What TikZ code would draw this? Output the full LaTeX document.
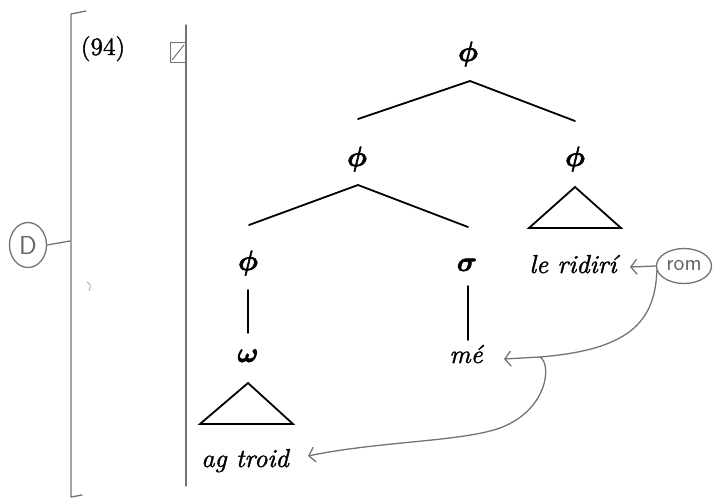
\documentclass[tikz,border=0pt]{standalone}
\usepackage{amsmath,bm}
\usepackage{fontspec}
\newfontfamily\wordfont{lmroman10-italic.otf}[FakeBold=1.3]
\newfontfamily\numfont{lmroman10-regular.otf}[FakeBold=1.2]
\usetikzlibrary{arrows.meta,shapes.geometric}
\newcommand{\gk}[1]{\scalebox{2.8}{\special{pdf:literal direct 2 Tr 0.22 w}$\bm{#1}$\special{pdf:literal direct 0 Tr}}}
\begin{document}
\begin{tikzpicture}[x=1pt,y=-1pt,
  lab/.style={anchor=base,inner sep=0pt},
  greek/.style={lab},
  word/.style={lab,font=\fontsize{26}{30}\selectfont\wordfont},
  branch/.style={line width=1.8pt,black,line cap=round,line join=miter},
  ann/.style={draw=black!55,line width=1.3pt,line cap=round,line join=round},
  annarrow/.style={ann,-{Straight Barb[length=6pt,width=15pt]}},
  bubble/.style={ellipse,draw=black!55,line width=1.3pt,inner sep=0pt,text=black!60,font=\fontsize{23}{25}\selectfont\sffamily}
]
\useasboundingbox (0,0) rectangle (713,499);

% hand-drawn brackets and marks
\draw[ann] (86,11) -- (71,14) -- (71,497) -- (82,495);
\draw[ann] (186,25) -- (186,486);
\draw[ann,line width=1pt] (170,42) rectangle (185,62);
\draw[ann,line width=1pt] (172,60) -- (184,45);
\draw[black!35,line width=0.8pt] (87,282) .. controls (91,285) .. (89,291);

% example number
\node[lab,font=\fontsize{25}{28}\selectfont\numfont] (ex) at (103,55) {(94)};

% tree labels
\node[greek] (top) at (468,61) {\gk{\phi}};
\node[greek] (mid) at (357,166) {\gk{\phi}};
\node[greek] (rgt) at (575,166) {\gk{\phi}};
\node[greek] (lowphi) at (248,270) {\gk{\phi}};
\node[greek] (sig) at (467,271) {\gk{\sigma}};
\node[word] (ler) at (573,273) {le ridirí};
\node[greek] (om) at (248,362) {\gk{\omega}};
\node[word] (me) at (466,363) {mé};
\node[word] (ag) at (245,467) {ag troid};

% branch points
\coordinate (tapex) at (470,81);
\coordinate (tl) at (358,119);
\coordinate (tr) at (575,121);
\coordinate (mapex) at (358,185);
\coordinate (ml) at (249,225);
\coordinate (mr) at (468,227);
\coordinate (rapex) at (575,187);
\coordinate (rbl) at (529,228);
\coordinate (rbr) at (621,228);
\coordinate (v1t) at (248,290);
\coordinate (v1b) at (248,333);
\coordinate (v2t) at (468,286);
\coordinate (v2b) at (468,340);
\coordinate (oapex) at (248,383);
\coordinate (obl) at (200,424);
\coordinate (obr) at (293,424);

\draw[branch] (tl) -- (tapex) -- (tr);
\draw[branch] (ml) -- (mapex) -- (mr);
\draw[branch] (rapex) -- (rbl) -- (rbr) -- cycle;
\draw[branch] (v1t) -- (v1b);
\draw[branch] (v2t) -- (v2b);
\draw[branch] (oapex) -- (obl) -- (obr) -- cycle;

% annotations
\node[bubble,minimum width=37pt,minimum height=45pt,font=\fontsize{26}{28}\selectfont\sffamily] (D) at (28,245) {D};
\coordinate (brk) at (70,241);
\draw[ann] (D.east) -- (brk);

\node[bubble,minimum width=55pt,minimum height=35pt] (rom) at (684,266) {rom};
\coordinate (lerend) at (630,267);
\coordinate (meend) at (504,359);
\coordinate (fork) at (540,357);
\coordinate (agend) at (308,456);
\draw[annarrow] (rom.west) -- (lerend);
\draw[annarrow] (rom.190) .. controls (655,325) and (625,350) .. (fork) -- (meend);
\draw[annarrow] (fork) .. controls (552,364) and (548,410) .. (500,428)
  .. controls (460,442) and (380,441) .. (agend);
\end{tikzpicture}
\end{document}
